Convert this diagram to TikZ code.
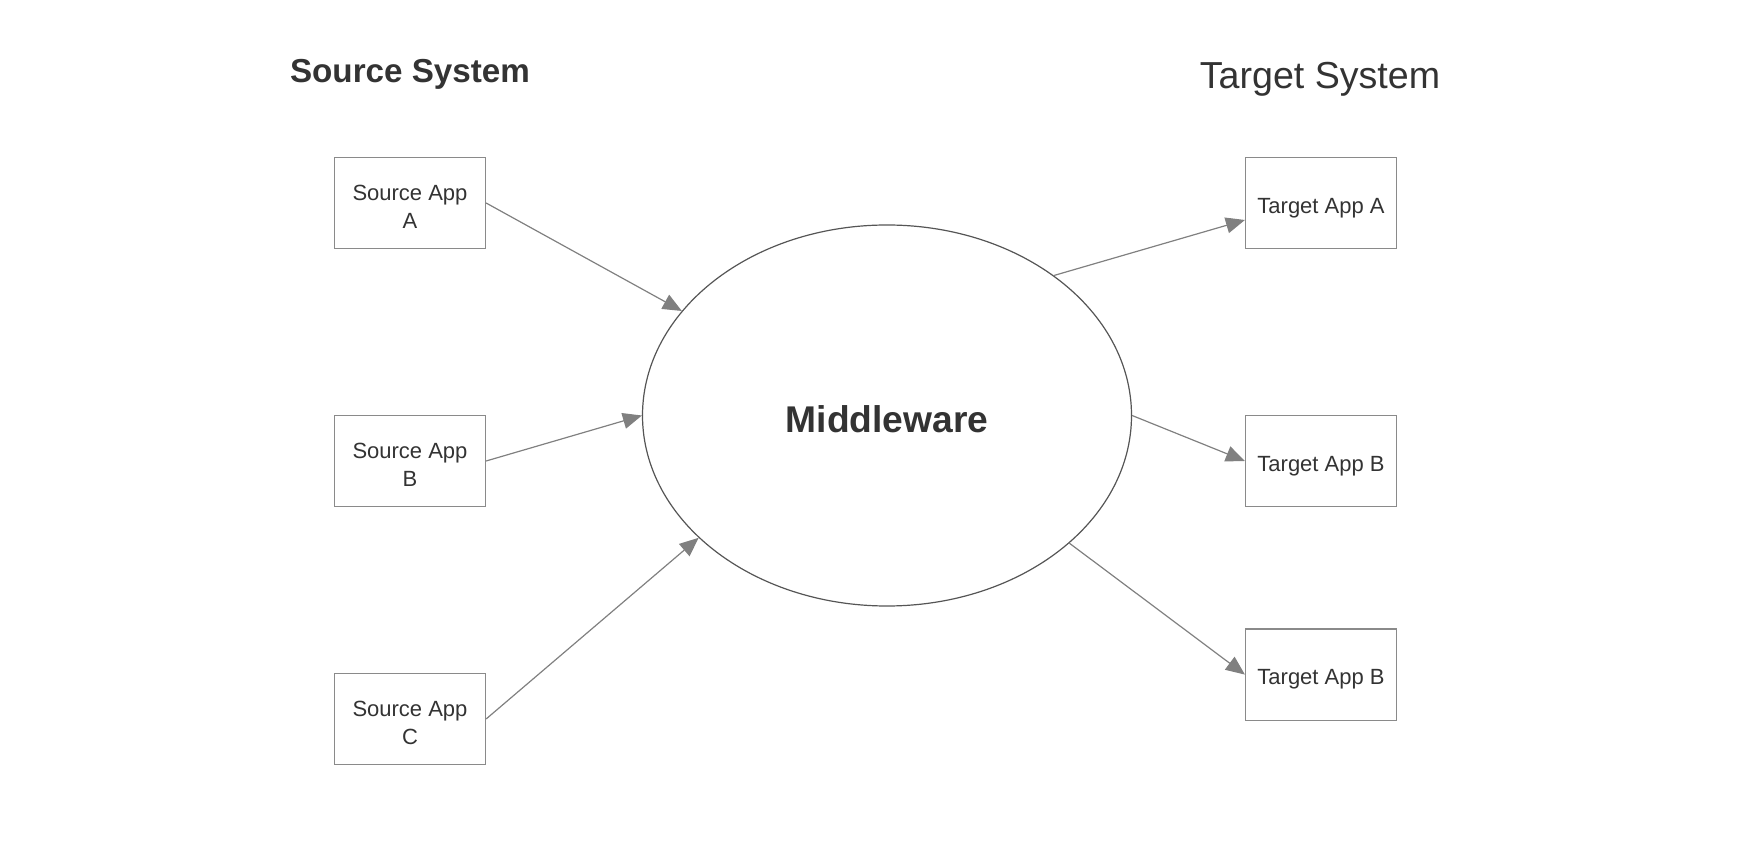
\documentclass[tikz,border=0pt]{standalone}
\usepackage{fontspec}
\setmainfont{Liberation Sans}
\usetikzlibrary{shapes.geometric,arrows.meta}
\definecolor{txtgray}{HTML}{333333}
\definecolor{boxgray}{HTML}{8A8A8A}
\definecolor{arrgray}{HTML}{808080}
\definecolor{ellgray}{HTML}{555555}
\newcommand{\apptxt}[2][-2.8pt]{\raisebox{#1}[\height][\depth]{\begin{tabular}{@{}c@{}}#2\end{tabular}}}

\begin{document}
\begin{tikzpicture}[x=0.5pt,y=-0.5pt,
		app/.style={draw=boxgray, line width=0.6pt, minimum width=75.5pt, minimum height=45.5pt,
			inner sep=0pt, text=txtgray, font=\fontsize{11}{14}\selectfont},
		title/.style={text=txtgray, inner sep=0pt},
		link/.style={draw=arrgray, line width=0.6pt, -{Triangle[length=9.5pt,width=8pt]}}]
			\useasboundingbox (0,0) rectangle (1760,854);
			% headings
			\node[title, font=\fontsize{16.6}{20}\selectfont\bfseries] (srctitle) at (410,74.5) {Source System};
			\node[title, font=\fontsize{18.8}{22}\selectfont] (tgttitle) at (1320,79.7) {Target System};
			% middleware
			\node[ellipse, draw=ellgray, line width=0.6pt, minimum width=244.5pt, minimum height=190.5pt,
				inner sep=0pt, text=txtgray, font=\fontsize{18.6}{22}\selectfont\bfseries] (mw) at (887,415.5)
				{\raisebox{-1.7pt}[\height][\depth]{Middleware}};
			% source apps
			\node[app] (srca) at (410,203) {\apptxt{Source App\\A}};
			\node[app] (srcb) at (410,461) {\apptxt{Source App\\B}};
			\node[app] (srcc) at (410,719) {\apptxt{Source App\\C}};
			% target apps
			\node[app] (tgta) at (1321,203) {\apptxt[-2.3pt]{Target App A}};
			\node[app] (tgtb) at (1321,461) {\apptxt[-2.3pt]{Target App B}};
			\node[app] (tgtc) at (1321,674.6) {\apptxt[-2.3pt]{Target App B}};
			% connectors
			\draw[link] (srca.east) -- (mw.153);
			\draw[link] (srcb.east) -- (mw.west);
			\draw[link] (srcc.east) -- (mw.213);
			\draw[link] (mw.40) -- ([yshift=-8.5pt]tgta.west);
			\draw[link] (mw.east) -- (tgtb.west);
			\draw[link] (mw.325) -- (tgtc.west);
		\end{tikzpicture}
\end{document}
